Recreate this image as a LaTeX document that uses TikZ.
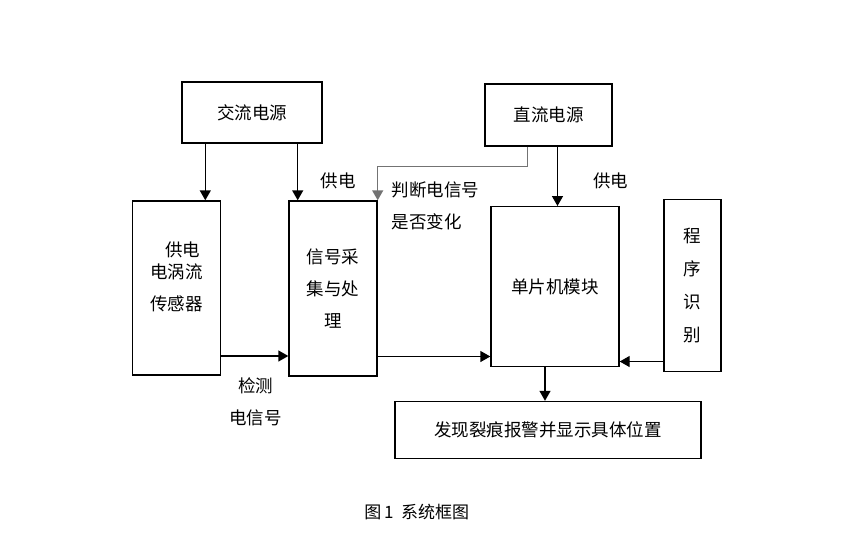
\documentclass[tikz,border=0pt]{standalone}
\usepackage{fontspec}
\setmainfont{Noto Sans CJK SC}
\usetikzlibrary{arrows.meta,calc}

\tikzset{
  blk/.style={draw, line width=1.4pt, inner sep=0pt},
  arr/.style={line width=1.4pt, -{Triangle[length=10pt,width=11pt]}},
  txt/.style={font=\fontsize{17.5}{32}\selectfont, align=center, inner sep=0pt}
}

\begin{document}
\begin{tikzpicture}[x=1pt,y=-1pt]
    \useasboundingbox (0,0) rectangle (846,541);
    % boxes
    \node[blk, minimum width=140pt, minimum height=61pt, txt] (ac) at (252,112.5) {交流电源};
    \node[blk, minimum width=127pt, minimum height=62pt, txt] (dc) at (548.5,115) {直流电源};
    \node[blk, minimum width=88pt, minimum height=174pt] (sensor) at (176.5,288) {};
    \node[txt] (sensortxt) at ([yshift=11pt]sensor.center) {\hspace*{0.7em}供电\\[-10pt]电涡流\\传感器};
    \node[blk, minimum width=88pt, minimum height=175pt, txt] (signal) at (333,288.5) {信号采\\集与处\\理};
    \node[blk, minimum width=128pt, minimum height=160pt, txt] (mcu) at (555,286.7) {单片机模块};
    \node[blk, minimum width=57pt, minimum height=172pt, txt, font=\fontsize{17.5}{33}\selectfont] (prog) at (692.3,285.5) {程\\序\\识\\别};
    \node[blk, minimum width=306pt, minimum height=57pt, txt] (alarm) at (548,430) {发现裂痕报警并显示具体位置};
    % labels
    \node[txt] (acpow) at (338,181) {供电};
    \node[txt] (dcpow) at (610.7,181) {供电};
    \node[txt, anchor=west, align=left] (judge) at (391.5,206) {判断电信号\\是否变化};
    \node[txt] (detect) at (255.5,402.3) {检测\\电信号};
    \node[txt, font=\fontsize{17}{20}\selectfont] (caption) at (416.7,511.7) {图\,1\ \ 系统框图};
    % connectors
    \draw[arr] ([xshift=24pt]ac.south west) -- ([xshift=24pt]ac.south west |- sensor.north);
    \draw[arr] ([xshift=-25pt]ac.south east) -- ([xshift=-25pt]ac.south east |- signal.north);
    \draw[arr] ([xshift=9pt]dc.south) -- ([xshift=9pt]dc.south |- mcu.north);
    \draw[arr, black!55] ([xshift=-21pt]dc.south) -- ++(0,20) -| (signal.north east);
    \draw[arr] ([yshift=-68pt]sensor.east) -- ([yshift=-68pt]sensor.east -| signal.west);
    \draw[arr] ([yshift=-68pt]signal.east) -- ([yshift=-68pt]signal.east -| mcu.west);
    \draw[arr] ([yshift=-76pt]prog.west) -- ([yshift=-76pt]prog.west -| mcu.east);
    \draw[arr] ([xshift=-10pt]mcu.south) -- ([xshift=-10pt]mcu.south |- alarm.north);
\end{tikzpicture}
\end{document}
